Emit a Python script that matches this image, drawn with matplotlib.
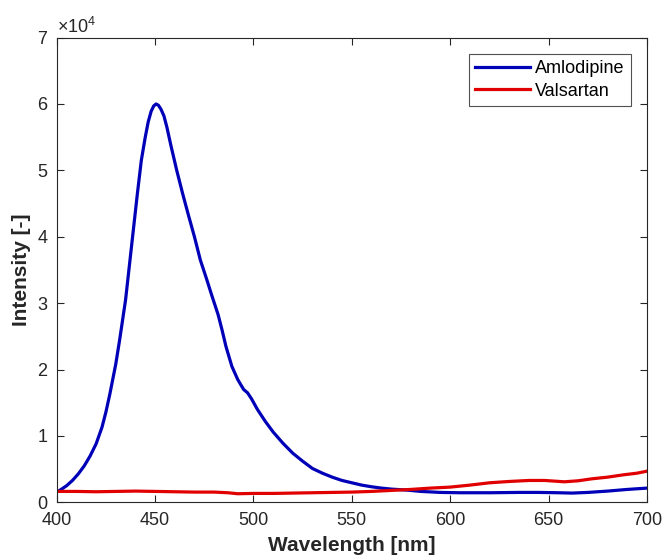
import matplotlib
matplotlib.use("Agg")
import matplotlib.pyplot as plt
from matplotlib.ticker import ScalarFormatter

plt.rcParams['font.family'] = ['Liberation Sans', 'DejaVu Sans']
plt.rcParams['mathtext.fontset'] = 'custom'
plt.rcParams['mathtext.rm'] = 'Liberation Sans'

# Emission spectra (wavelength in nm, intensity in counts)
amlo_wl = [400, 402, 405, 408, 411, 414, 417, 420, 423, 425, 427, 430, 432, 435,
           438, 441, 443, 445, 446.5, 448, 449.3, 450.5, 451.7, 453, 454.5, 456,
           458, 461, 464, 467, 470, 473, 476, 479, 482, 484, 486, 489, 492, 495,
           497, 499, 502, 506, 510, 515, 520, 525, 530, 535, 540, 545, 550, 555,
           560, 565, 570, 578, 585, 595, 605, 620, 635, 645, 655, 662, 670, 680,
           690, 700]
amlo_int = [1550, 1900, 2500, 3300, 4300, 5500, 7000, 8800, 11300, 13600, 16300,
            20800, 24500, 30500, 38500, 46500, 51500, 55000, 57300, 58900, 59700,
            60000, 59800, 59200, 58200, 56500, 53800, 50000, 46500, 43200, 40000,
            36500, 33800, 31000, 28300, 26000, 23500, 20500, 18500, 17000, 16500,
            15600, 14000, 12200, 10600, 8900, 7400, 6200, 5100, 4400, 3800, 3300,
            2950, 2600, 2350, 2150, 2000, 1850, 1650, 1500, 1450, 1450, 1500,
            1500, 1450, 1400, 1500, 1700, 1950, 2150]

vals_wl = [400, 410, 420, 430, 440, 450, 460, 470, 480, 487, 492, 500, 510, 520,
           530, 540, 550, 560, 570, 580, 590, 600, 610, 620, 630, 640, 648, 658,
           665, 672, 680, 688, 695, 700]
vals_int = [1650, 1650, 1600, 1650, 1700, 1650, 1600, 1550, 1550, 1450, 1300,
            1350, 1350, 1400, 1450, 1500, 1550, 1650, 1800, 1950, 2150, 2300,
            2600, 2950, 3150, 3300, 3300, 3100, 3250, 3550, 3800, 4150, 4400, 4700]

x_ticks = [400, 450, 500, 550, 600, 650, 700]
y_ticks = [0, 10000, 20000, 30000, 40000, 50000, 60000, 70000]

fig = plt.figure(figsize=(6.64, 5.60), dpi=100)
ax = fig.add_axes([0.0854, 0.1029, 0.889, 0.830])

ax.plot(amlo_wl, amlo_int, color='#0000b8', lw=2.3, label='Amlodipine',
        solid_joinstyle='round')
ax.plot(vals_wl, vals_int, color='#e00000', lw=2.3, label='Valsartan',
        solid_joinstyle='round')

ax.set_xlim(400, 700)
ax.set_ylim(0, 70000)
ax.set_xticks(x_ticks)
ax.set_yticks(y_ticks)

fmt = ScalarFormatter(useMathText=True)
fmt.set_powerlimits((4, 4))
ax.yaxis.set_major_formatter(fmt)
ax.yaxis.get_offset_text().set_fontsize(13)
ax.yaxis.get_offset_text().set_color('#262626')

for side in ax.spines.values():
    side.set_color('#262626')
    side.set_linewidth(0.8)
ax.tick_params(direction='in', length=5, width=0.8, colors='#262626',
               labelsize=13, top=True, right=True)
ax.tick_params(axis='x', pad=7)
ax.tick_params(axis='y', pad=6)

ax.set_xlabel('Wavelength [nm]', fontsize=15, fontweight='bold', color='#262626',
              labelpad=5)
ax.set_ylabel('Intensity [-]', fontsize=15, fontweight='bold', color='#262626',
              labelpad=4)

leg = ax.legend(loc='upper right', fontsize=13, frameon=True, fancybox=False,
                edgecolor='#262626', handlelength=3.0, handletextpad=0.3,
                borderpad=0.35, labelspacing=0.3, borderaxespad=0.9)
leg.get_frame().set_linewidth(0.8)

fig.savefig('out.png', dpi=100, facecolor='white')
